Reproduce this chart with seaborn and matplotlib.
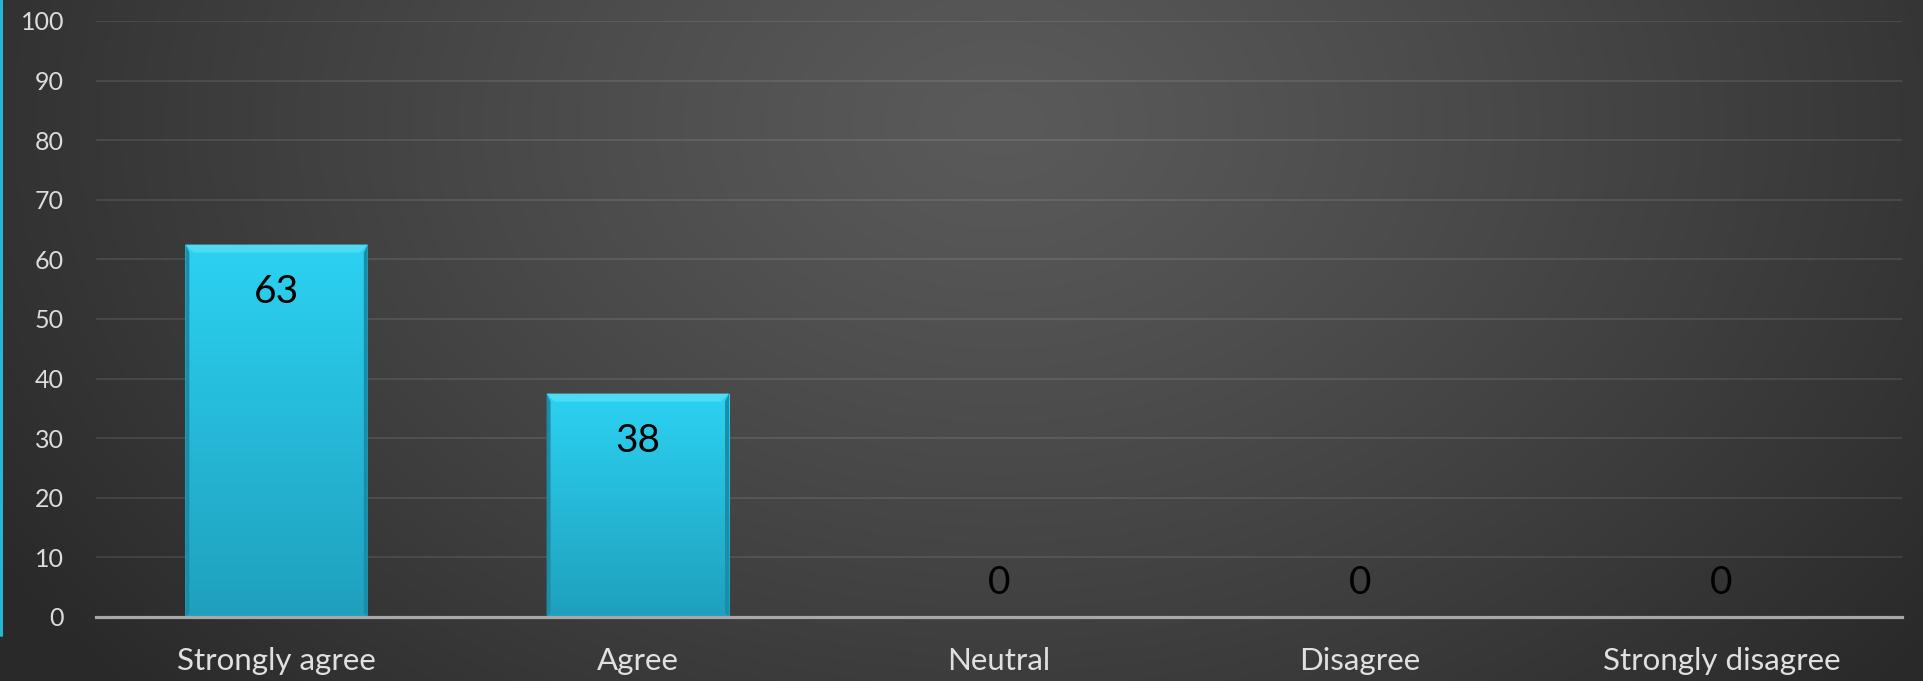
import numpy as np
import pandas as pd
import matplotlib
matplotlib.use("Agg")
import matplotlib.pyplot as plt
from matplotlib.patches import Polygon
import seaborn as sns

categories = ["Strongly agree", "Agree", "Neutral", "Disagree", "Strongly disagree"]
values = [62.5, 37.5, 0, 0, 0]
value_labels = ["63", "38", "0", "0", "0"]
y_ticks = [0, 10, 20, 30, 40, 50, 60, 70, 80, 90, 100]

sns.set_theme(style="dark")
plt.rcParams['font.family'] = ['Lato', 'DejaVu Sans']

W, H, DPI = 1923, 681, 100
fig = plt.figure(figsize=(W / DPI, H / DPI), dpi=DPI)

# radial background
bg = fig.add_axes([0, 0, 1, 1], zorder=-10)
yy, xx = np.mgrid[0:1:400j, 0:1:1100j]
cx, cy = 0.52, 0.82
r = np.sqrt(((xx - cx) / 0.62) ** 2 + ((yy - cy) / 1.25) ** 2)
r = np.clip(r, 0, 1)
c0, c1 = 0x5a / 255, 0x29 / 255
img = c0 + (c1 - c0) * r ** 1.2
bg.imshow(np.dstack([img, img, img]), extent=[0, 1, 0, 1], origin="lower", aspect="auto")
bg.set_axis_off()

# left cyan stripe
fig.add_artist(plt.Line2D([1.2 / W, 1.2 / W], [1 - 635 / H, 1], color="#2ab4d6", lw=2.2,
                          transform=fig.transFigure))

ax = fig.add_axes([96 / W, 1 - 617 / H, (1902 - 96) / W, (617 - 21) / H])
ax.set_facecolor("none")
df = pd.DataFrame({"cat": categories, "val": values})
sns.barplot(data=df, x="cat", y="val", ax=ax, color="#27c4e4", width=0.505,
            saturation=1, edgecolor="none", zorder=2)

ax.set_ylim(0, 100)
ax.set_xlim(-0.5, len(categories) - 0.5)
ax.set_yticks(y_ticks)
ax.set_yticklabels([str(t) for t in y_ticks])
ax.grid(axis="y", color="white", alpha=0.09, lw=1.5, zorder=0)
ax.grid(axis="x", visible=False)
for s in ["top", "right", "left"]:
    ax.spines[s].set_visible(False)
ax.spines["bottom"].set_color("#a8a8a8")
ax.spines["bottom"].set_linewidth(2.3)
ax.spines["bottom"].set_zorder(5)
ax.tick_params(axis="y", length=0, pad=23, labelsize=18, labelcolor="#dcdcdc")
ax.tick_params(axis="x", length=0, pad=21.5, labelsize=22.5, labelcolor="#e0e0e0")
ax.set_xlabel("")
ax.set_ylabel("")

# gradient + bevel on bars
grad = np.linspace(0, 1, 256).reshape(-1, 1)
top_c = np.array([0x2c, 0xd2, 0xf2]) / 255
bot_c = np.array([0x1f, 0xa0, 0xbd]) / 255
gimg = bot_c + (top_c - bot_c) * grad[..., None] * np.ones((1, 2, 1))
for p in ax.patches:
    x0, y0 = p.get_x(), p.get_y()
    w, h = p.get_width(), p.get_height()
    if h <= 0:
        continue
    im = ax.imshow(gimg, extent=[x0, x0 + w, y0, y0 + h], origin="lower",
                   aspect="auto", zorder=3)
    im.set_clip_path(p)
    dx = 0.022
    dy = 1.35
    ax.add_patch(Polygon([[x0, y0 + h], [x0 + w, y0 + h], [x0 + w - dx, y0 + h - dy],
                          [x0 + dx, y0 + h - dy]], closed=True, color="#55ddf4",
                         alpha=0.85, lw=0, zorder=4))
    ax.add_patch(Polygon([[x0, y0], [x0 + dx * 0.5, y0 + dy * 0.5], [x0 + dx * 0.5, y0 + h - dy],
                          [x0, y0 + h]], closed=True, color="#1a8ea8", lw=0, zorder=4))
    ax.add_patch(Polygon([[x0 + w, y0], [x0 + w - dx * 0.5, y0 + dy * 0.5],
                          [x0 + w - dx * 0.5, y0 + h - dy], [x0 + w, y0 + h]], closed=True,
                         color="#1a8ea8", lw=0, zorder=4))

for i, (v, lab) in enumerate(zip(values, value_labels)):
    ypos = v - 8.0 if v > 10 else v + 5.7
    ax.text(i, ypos, lab, ha="center", va="center", fontsize=28, color="black", zorder=6)

fig.savefig("out.png", dpi=DPI)
